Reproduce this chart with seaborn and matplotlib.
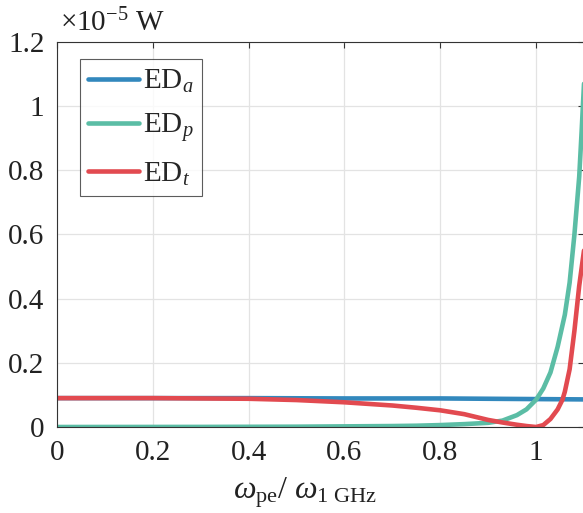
import numpy as np
import pandas as pd
import matplotlib
matplotlib.use("Agg")
import matplotlib.pyplot as plt
import seaborn as sns
from matplotlib.ticker import FuncFormatter

# values (units of 1e-5 W)
blue_x = [0, 0.2, 0.4, 0.6, 0.8, 0.9, 1.0, 1.1]
blue_y = [0.090, 0.090, 0.090, 0.089, 0.089, 0.088, 0.087, 0.086]

teal_x = [0, 0.3, 0.5, 0.6, 0.7, 0.75, 0.8, 0.85, 0.9, 0.93, 0.96, 0.98, 1.0,
          1.015, 1.03, 1.045, 1.06, 1.07, 1.08, 1.09, 1.095, 1.1]
teal_y = [0, 0.0003, 0.001, 0.002, 0.003, 0.004, 0.006, 0.009, 0.013, 0.020,
          0.037, 0.055, 0.085, 0.12, 0.17, 0.25, 0.35, 0.45, 0.6, 0.78, 0.92, 1.07]

red_x = [0, 0.2, 0.4, 0.5, 0.6, 0.7, 0.75, 0.8, 0.85, 0.9, 0.93, 0.96, 0.98,
         1.0, 1.015, 1.03, 1.045, 1.055, 1.06, 1.07, 1.08, 1.09, 1.1]
red_y = [0.090, 0.090, 0.088, 0.084, 0.077, 0.067, 0.060, 0.052, 0.040, 0.022,
         0.014, 0.007, 0.003, 0.0, 0.006, 0.025, 0.055, 0.085, 0.11, 0.18,
         0.30, 0.44, 0.55]

labels = [r'ED$_{a}$', r'ED$_{p}$', r'ED$_{t}$']
colors = ['#3288BD', '#5BBDA5', '#E24A50']

x_ticks = [0, 0.2, 0.4, 0.6, 0.8, 1.0]
y_ticks = [0, 0.2, 0.4, 0.6, 0.8, 1.0, 1.2]

sns.set_style("white")
plt.rcParams['font.family'] = ['Liberation Serif', 'DejaVu Serif']
plt.rcParams['mathtext.fontset'] = 'custom'
plt.rcParams['mathtext.rm'] = 'Liberation Serif'
plt.rcParams['mathtext.it'] = 'Liberation Serif:italic'
plt.rcParams['mathtext.bf'] = 'Liberation Serif:bold'

fig = plt.figure(figsize=(5.83, 5.13), dpi=100)
ax = fig.add_axes([57 / 583, 86 / 513, 527 / 583, 385 / 513])

series = [(blue_x, blue_y), (teal_x, teal_y), (red_x, red_y)]
for (xs, ys), lab, col in zip(series, labels, colors):
    sns.lineplot(x=xs, y=ys, ax=ax, color=col, linewidth=3.3, label=lab,
                 sort=False, estimator=None)

ax.set_xlim(0, 1.1)
ax.set_ylim(0, 1.2)
ax.set_xticks(x_ticks)
ax.set_yticks(y_ticks)
fmt = FuncFormatter(lambda v, p: ('%g' % round(v, 2)))
ax.xaxis.set_major_formatter(fmt)
ax.yaxis.set_major_formatter(fmt)
ax.grid(True, color='#e3e3e3', linewidth=0.9)
ax.set_axisbelow(True)
ax.tick_params(direction='in', length=4, width=0.8, color='#333333',
               labelsize=21, labelcolor='#222222', pad=9,
               top=True, right=True)
for s in ax.spines.values():
    s.set_color('#333333')
    s.set_linewidth(0.8)

ax.set_xlabel(r'$\omega_{\mathrm{pe}}$/ $\omega_{\mathrm{1\ GHz}}$', fontsize=23,
              color='#222222')
ax.xaxis.set_label_coords(0.47, -0.125)
ax.text(0.005, 1.012, r'$\times 10^{-5}$ W', transform=ax.transAxes,
        fontsize=21, color='#222222', ha='left', va='bottom')

leg = ax.legend(loc='upper left', bbox_to_anchor=(0.043, 0.955), fontsize=21,
                frameon=True, fancybox=False, handlelength=1.75,
                handletextpad=0.12, labelspacing=0.55, borderpad=0.3,
                borderaxespad=0)
leg.get_frame().set_edgecolor('#333333')
leg.get_frame().set_linewidth(0.8)

fig.savefig('out.png', dpi=100)
